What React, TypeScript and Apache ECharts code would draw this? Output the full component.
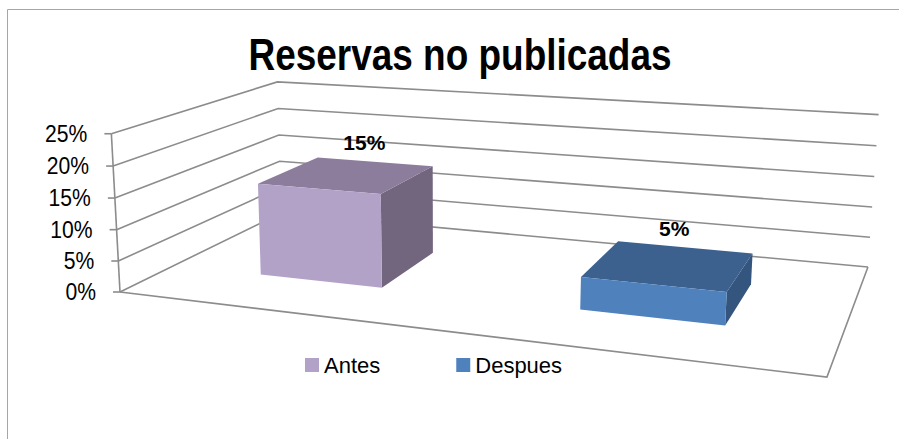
import React, { useEffect, useRef } from "react";
import * as echarts from "echarts";

// ---- data ----
const categories = ["Antes", "Despues"];
const values = [0.15, 0.05];
const yTicks = [0, 0.05, 0.1, 0.15, 0.2, 0.25];
const yTickLabels = ["0%", "5%", "10%", "15%", "20%", "25%"];
const title = "Reservas no publicadas";

// ---- styles ----
const frontColors = ["#B3A2C7", "#4F81BD"];
const topColors = ["#8B7D9B", "#3C618F"];
const sideColors = ["#72667F", "#33557E"];
const GRID_COLOR = "#8C8C8C";
const FONT = "'Liberation Sans', Arial, sans-serif";
const NARROW_SCALE = 0.84;

// hidden unit grid used as the normalised space (u along categories, t along value)
const GRID_L = 0, GRID_T = 0, GRID_W = 100, GRID_H = 100;
// perspective projection of the 3D box (u: left→right, w: front→back, t: height)
const PA = 561.9, PB = 221.9, PC = 120, PD = 18.9, PE = -32.8, PF = 292;
const PG = -0.1754, PH = 0.2167, PX = -11.5, PY = -161.7, PZ = -0.0257;
const W0 = 0.3, W1 = 0.7, BAR_FRAC = 0.4;

function proj(u: number, w: number, t: number): number[] {
  const D = 1 + PG * u + PH * w + PZ * t;
  return [(PA * u + PB * w + PC + PX * t) / D, (PD * u + PE * w + PF + PY * t) / D];
}

export default function App() {
  const ref = useRef<HTMLDivElement>(null);
  useEffect(() => {
    document.body.style.margin = "0";
    const chart = echarts.init(ref.current!, null, { renderer: "svg" });
    const yMax = yTicks[yTicks.length - 1];

    const frameSeries: any = {
      type: "custom",
      name: "frame",
      coordinateSystem: "cartesian2d",
      clip: false,
      silent: true,
      data: yTicks.map((v) => [0, v]),
      renderItem: (params: any, api: any) => {
        const v = api.value(1);
        const base = api.coord([0, 0]);
        const p = api.coord([0, v]);
        const t = (base[1] - p[1]) / GRID_H;
        const tMax = (base[1] - api.coord([0, yMax])[1]) / GRID_H;
        const fl = proj(0, 0, t);
        const bl = proj(0, 1, t);
        const br = proj(1, 1, t);
        const line = { stroke: GRID_COLOR, lineWidth: 1.6, fill: "none" };
        const children: any[] = [
          { type: "polyline", shape: { points: [fl, bl, br] }, style: line },
          { type: "line", shape: { x1: fl[0] - 7, y1: fl[1], x2: fl[0], y2: fl[1] }, style: line },
          {
            type: "text",
            x: fl[0] - 24,
            y: fl[1],
            scaleX: 0.88,
            style: {
              text: yTickLabels[params.dataIndex],
              fill: "#000",
              fontFamily: FONT,
              fontSize: 24,
              align: "right",
              verticalAlign: "middle",
            },
          },
        ];
        if (params.dataIndex === 0) {
          children.push({
            type: "polyline",
            shape: { points: [proj(0, 0, 0), proj(1, 0, 0), proj(1, 1, 0)] },
            style: line,
          });
          children.push({
            type: "line",
            shape: { x1: proj(0, 0, 0)[0], y1: proj(0, 0, 0)[1], x2: proj(0, 0, tMax)[0], y2: proj(0, 0, tMax)[1] },
            style: line,
          });
        }
        return { type: "group", children };
      },
    };

    const barSeries = categories.map((name, i) => ({
      type: "custom",
      name,
      coordinateSystem: "cartesian2d",
      clip: false,
      itemStyle: { color: frontColors[i] },
      data: [[i, values[i]]],
      renderItem: (params: any, api: any) => {
        const ci = api.value(0);
        const v = api.value(1);
        const base = api.coord([ci, 0]);
        const top = api.coord([ci, v]);
        const band = api.size([1, 0])[0];
        const uc = (base[0] - GRID_L) / GRID_W;
        const half = (band * BAR_FRAC) / 2 / GRID_W;
        const t = (base[1] - top[1]) / GRID_H;
        const u0 = uc - half, u1 = uc + half;
        const lab = proj(uc, W1, t);
        return {
          type: "group",
          children: [
            {
              type: "polygon",
              shape: { points: [proj(u1, W0, 0), proj(u1, W1, 0), proj(u1, W1, t), proj(u1, W0, t)] },
              style: { fill: sideColors[i] },
            },
            {
              type: "polygon",
              shape: { points: [proj(u0, W0, t), proj(u1, W0, t), proj(u1, W1, t), proj(u0, W1, t)] },
              style: { fill: topColors[i] },
            },
            {
              type: "polygon",
              shape: { points: [proj(u0, W0, 0), proj(u1, W0, 0), proj(u1, W0, t), proj(u0, W0, t)] },
              style: { fill: frontColors[i] },
            },
            {
              type: "text",
              x: lab[0] - 10,
              y: lab[1] - 19,
              style: {
                text: Math.round(v * 100) + "%",
                fill: "#000",
                fontFamily: FONT,
                fontWeight: "bold",
                fontSize: 21,
                align: "center",
                verticalAlign: "middle",
              },
            },
          ],
        };
      },
    }));

    chart.setOption({
      animation: false,
      legend: {
        data: categories,
        left: 305,
        top: 354,
        padding: 0,
        icon: "rect",
        itemWidth: 14,
        itemHeight: 14,
        itemGap: 76,
        textStyle: { fontFamily: FONT, fontSize: 22, color: "#000" },
        selectedMode: false,
      },
      graphic: [
        {
          type: "rect",
          shape: { x: 7.5, y: 9.5, width: 1200, height: 1200 },
          style: { fill: "none", stroke: "#A6A6A6", lineWidth: 1 },
          silent: true,
          z: -10,
        },
        {
          type: "text",
          x: 460,
          y: 55,
          scaleX: NARROW_SCALE,
          style: {
            text: title,
            fill: "#000",
            fontFamily: FONT,
            fontWeight: "bold",
            fontSize: 44,
            align: "center",
            verticalAlign: "middle",
          },
        },
      ],
      grid: { left: GRID_L, top: GRID_T, width: GRID_W, height: GRID_H, show: false },
      xAxis: { type: "category", data: categories, show: false },
      yAxis: { type: "value", min: 0, max: yMax, interval: 0.05, show: false },
      series: [frameSeries, ...barSeries],
    });
    return () => chart.dispose();
  }, []);
  return <div ref={ref} style={{ width: 899, height: 439 }} />;
}
